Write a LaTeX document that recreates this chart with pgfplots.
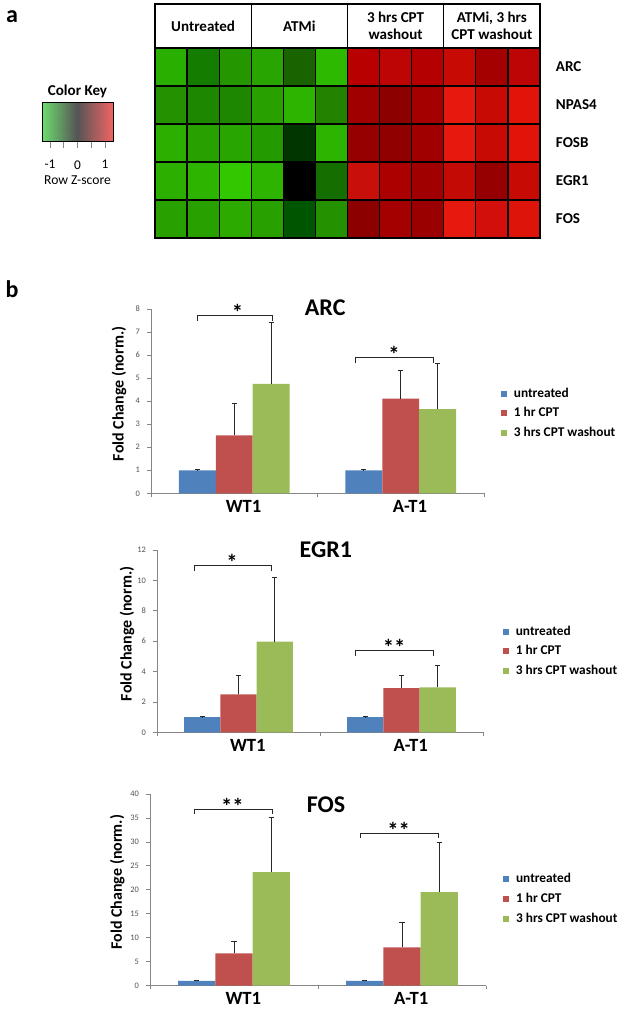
\documentclass[border=0pt]{standalone}
\usepackage{pgfplots}
\pgfplotsset{compat=1.18}
\usepackage{pgfplotstable}
\usepackage{fontspec}
\setmainfont{Carlito}

\definecolor{cblue}{RGB}{79,129,189}
\definecolor{cred}{RGB}{192,80,77}
\definecolor{cgreen}{RGB}{155,187,89}
\definecolor{axgray}{RGB}{134,134,134}
\definecolor{ticklab}{RGB}{80,80,80}
\definecolor{errc}{RGB}{40,40,40}

\pgfplotsset{
  barax/.style={
    scale only axis, anchor=south west, clip=false,
    /pgf/number format/assume math mode=true,
    ybar=0pt, bar width=0.222,
    xmin=-0.5, xmax=1.5, ymin=0,
    axis x line*=bottom, axis y line*=left,
    axis line style={axgray, line width=0.6pt},
    xtick={-0.5,0.5,1.5}, xticklabels={},
    extra x ticks={0,1}, extra x tick labels={WT1,A-T1},
    extra x tick style={major tick length=0pt,
      xticklabel style={font=\fontsize{14pt}{16pt}\selectfont\bfseries, text=black, yshift=-1.5pt, xshift=7pt}},
    tick align=outside, major tick length=2.8pt,
    tick style={axgray, line width=0.6pt},
    yticklabel style={font=\fontsize{6.3pt}{7pt}\selectfont, text=ticklab, xshift=-2pt},
    ylabel={Fold Change (norm.)},
    ylabel style={font=\fontsize{12pt}{14pt}\selectfont\bfseries, anchor=center, rotate=0},
    error bars/y dir=plus, error bars/y explicit,
    error bars/error bar style={errc, line width=0.5pt},
    error bars/error mark=|,
    error bars/error mark options={errc, line width=0.5pt, mark size=2pt},
    legend style={draw=none, fill=none, font=\fontsize{10pt}{12pt}\selectfont\bfseries,
      anchor=north west, inner sep=0pt, row sep=2.2pt,
      /tikz/every odd column/.append style={column sep=3pt}},
    legend cell align=left,
    legend image code/.code={\fill[#1] (0pt,-2.25pt) rectangle (4.5pt,2.25pt);},
  },
}
\tikzset{
  brk/.style={errc, line width=0.6pt},
  star/.style={font=\fontsize{17pt}{18pt}\selectfont\bfseries, anchor=south, inner sep=0pt, yshift=-3.5pt},
  ttl/.style={font=\fontsize{18pt}{20pt}\selectfont\bfseries, anchor=center},
  hdr/.style={font=\fontsize{11.3pt}{12.75pt}\selectfont\bfseries, align=center, anchor=center},
}

\begin{document}
\begin{tikzpicture}[x=0.75pt,y=-0.75pt]
\useasboundingbox (0,0) rectangle (625,1009);
\node[font=\fontsize{18pt}{20pt}\selectfont\bfseries] at (12,17) {a};
\node[font=\fontsize{18pt}{20pt}\selectfont\bfseries] at (12,289) {b};

% ---------- colour key ----------
\begin{axis}[at={({42*0.75pt},{-141*0.75pt})}, anchor=south west, scale only axis,
  width=53.25pt, height=29.25pt,
  xmin=-1.29, xmax=1.29, ymin=0, ymax=1, enlargelimits=false,
  colormap={key}{rgb255=(110,220,110) rgb255=(85,85,85) rgb255=(240,100,100)},
  point meta min=-1.29, point meta max=1.29,
  axis on top, axis line style={black, line width=0.6pt},
  xtick={-1,-0.5,0,0.5,1}, xticklabels={-1,,0,,1}, ytick=\empty,
  xtick pos=bottom, tick align=outside, major tick length=5.25pt,
  tick style={axgray, line width=0.6pt},
  xticklabel style={font=\fontsize{10pt}{12pt}\selectfont, yshift=-5.75pt},
  xlabel={Row Z-score}, xlabel style={font=\fontsize{10.2pt}{12pt}\selectfont, yshift=2pt},
  title={Color Key}, title style={font=\fontsize{11.3pt}{12pt}\selectfont\bfseries, yshift=-6.5pt},
]
\addplot[surf, shader=interp, mesh/cols=3, point meta=explicit] table[meta=c] {
x y c
-1.29 0 -1.29
0 0 0
1.29 0 1.29
-1.29 1 -1.29
0 1 0
1.29 1 1.29
};
\end{axis}

% ---------- heat map ----------
\begin{axis}[at={({155*0.75pt},{-238*0.75pt})}, anchor=south west, scale only axis,
  width=288.75pt, height=142.5pt,
  xmin=-0.5, xmax=11.5, ymin=-0.5, ymax=4.5, enlargelimits=false,
  xtick={-0.5,0.5,...,11.5}, ytick={-0.5,0.5,...,4.5},
  xticklabels={}, yticklabels={}, major tick length=0pt,
  grid=major, grid style={black, line width=0.9pt},
  axis on top, axis line style={black, line width=0.9pt},
  clip=false]
\addplot[matrix plot*, mesh/cols=12, mesh/color input=explicit, point meta=explicit symbolic]
table[meta=c] {
x y c
0 0 rgb255=40,160,0
1 0 rgb255=40,160,0
2 0 rgb255=45,170,0
3 0 rgb255=40,160,0
4 0 rgb255=0,85,0
5 0 rgb255=35,145,0
6 0 rgb255=140,0,0
7 0 rgb255=165,0,0
8 0 rgb255=155,0,0
9 0 rgb255=230,25,15
10 0 rgb255=210,15,10
11 0 rgb255=220,20,10
0 1 rgb255=45,175,0
1 1 rgb255=45,180,0
2 1 rgb255=50,200,0
3 1 rgb255=45,180,0
4 1 rgb255=0,0,0
5 1 rgb255=20,110,0
6 1 rgb255=200,15,10
7 1 rgb255=170,0,0
8 1 rgb255=160,0,0
9 1 rgb255=195,10,5
10 1 rgb255=150,0,0
11 1 rgb255=200,10,5
0 2 rgb255=45,175,0
1 2 rgb255=40,160,0
2 2 rgb255=40,165,0
3 2 rgb255=35,155,0
4 2 rgb255=0,55,0
5 2 rgb255=45,180,0
6 2 rgb255=150,0,0
7 2 rgb255=145,0,0
8 2 rgb255=160,0,0
9 2 rgb255=230,25,15
10 2 rgb255=200,10,5
11 2 rgb255=225,20,10
0 3 rgb255=35,145,0
1 3 rgb255=30,135,0
2 3 rgb255=30,135,0
3 3 rgb255=40,160,0
4 3 rgb255=45,180,0
5 3 rgb255=35,130,0
6 3 rgb255=160,0,0
7 3 rgb255=140,0,0
8 3 rgb255=165,0,0
9 3 rgb255=230,25,15
10 3 rgb255=200,10,5
11 3 rgb255=225,20,10
0 4 rgb255=40,175,0
1 4 rgb255=20,125,0
2 4 rgb255=35,150,0
3 4 rgb255=40,165,0
4 4 rgb255=25,100,0
5 4 rgb255=45,185,0
6 4 rgb255=185,0,0
7 4 rgb255=190,5,5
8 4 rgb255=180,0,0
9 4 rgb255=200,10,5
10 4 rgb255=165,0,0
11 4 rgb255=190,5,5
};
\draw[black, line width=0.9pt, fill=white] (axis cs:-0.5,4.5) rectangle (axis cs:11.5,5.658);
\draw[black, line width=0.9pt] (axis cs:2.5,4.5) -- (axis cs:2.5,5.658);
\draw[black, line width=0.9pt] (axis cs:5.5,4.5) -- (axis cs:5.5,5.658);
\draw[black, line width=0.9pt] (axis cs:8.5,4.5) -- (axis cs:8.5,5.658);
\node[hdr] at (axis cs:1,5.08) {Untreated};
\node[hdr] at (axis cs:4,5.08) {ATMi};
\node[hdr] at (axis cs:7,5.08) {3 hrs CPT\\washout};
\node[hdr] at (axis cs:10,5.08) {ATMi, 3 hrs\\CPT washout};
\node[hdr, anchor=west] at (axis cs:11.85,4) {ARC};
\node[hdr, anchor=west] at (axis cs:11.85,3) {NPAS4};
\node[hdr, anchor=west] at (axis cs:11.85,2) {FOSB};
\node[hdr, anchor=west] at (axis cs:11.85,1) {EGR1};
\node[hdr, anchor=west] at (axis cs:11.85,0) {FOS};
\end{axis}

% ---------- ARC ----------
\begin{axis}[barax, at={({151*0.75pt},{-493.3*0.75pt})}, width=249.75pt, height=138.2pt,
  ymax=8, ytick={0,1,...,8},
  ylabel style={at={(axis description cs:-0.096,0.54)}},
  legend style={at={(axis description cs:1.051,0.588)}}]
\addplot[fill=cblue, draw=none] table[x=x, y=y, y error=e] {
x y e
0 1 0.02
1 1 0.02
};
\addplot[fill=cred, draw=none] table[x=x, y=y, y error=e] {
x y e
0 2.52 1.39
1 4.11 1.21
};
\addplot[fill=cgreen, draw=none] table[x=x, y=y, y error=e] {
x y e
0 4.75 2.68
1 3.65 2.00
};
\legend{untreated, 1 hr CPT, 3 hrs CPT washout}
\draw[brk] (axis cs:-0.222,7.49) -- (axis cs:-0.222,7.71) -- (axis cs:0.227,7.71) -- (axis cs:0.227,7.49);
\node[star] at (axis cs:0.02,7.71) {*};
\draw[brk] (axis cs:0.725,5.66) -- (axis cs:0.725,5.88) -- (axis cs:1.194,5.88) -- (axis cs:1.194,5.66);
\node[star] at (axis cs:0.96,5.88) {*};
\node[ttl] at (rel axis cs:0.523,1.005) {ARC};
\end{axis}

% ---------- EGR1 ----------
\begin{axis}[barax, at={({157*0.75pt},{-732.3*0.75pt})}, width=244.5pt, height=136.8pt,
  ymax=12, ytick={0,2,...,12},
  ylabel style={at={(axis description cs:-0.092,0.54)}},
  legend style={at={(axis description cs:1.061,0.599)}}]
\addplot[fill=cblue, draw=none] table[x=x, y=y, y error=e] {
x y e
0 1 0.03
1 1 0.03
};
\addplot[fill=cred, draw=none] table[x=x, y=y, y error=e] {
x y e
0 2.50 1.25
1 2.91 0.84
};
\addplot[fill=cgreen, draw=none] table[x=x, y=y, y error=e] {
x y e
0 5.96 4.24
1 2.96 1.45
};
\legend{untreated, 1 hr CPT, 3 hrs CPT washout}
\draw[brk] (axis cs:-0.273,10.63) -- (axis cs:-0.273,10.96) -- (axis cs:0.199,10.96) -- (axis cs:0.199,10.63);
\node[star] at (axis cs:-0.04,10.96) {*};
\draw[brk] (axis cs:0.72,5.04) -- (axis cs:0.72,5.37) -- (axis cs:1.193,5.37) -- (axis cs:1.193,5.04);
\node[star] at (axis cs:0.955,5.37) {**};
\node[ttl] at (rel axis cs:0.518,1.0) {EGR1};
\end{axis}

% ---------- FOS ----------
\begin{axis}[barax, at={({150*0.75pt},{-985.7*0.75pt})}, width=252pt, height=143.8pt,
  ymax=40, ytick={0,5,...,40},
  ylabel style={at={(axis description cs:-0.097,0.54)}},
  legend style={at={(axis description cs:1.051,0.60)}}]
\addplot[fill=cblue, draw=none] table[x=x, y=y, y error=e] {
x y e
0 1 0.1
1 1 0.1
};
\addplot[fill=cred, draw=none] table[x=x, y=y, y error=e] {
x y e
0 6.76 2.44
1 8.00 5.15
};
\addplot[fill=cgreen, draw=none] table[x=x, y=y, y error=e] {
x y e
0 23.7 11.5
1 19.5 10.4
};
\legend{untreated, 1 hr CPT, 3 hrs CPT washout}
\draw[brk] (axis cs:-0.238,35.9) -- (axis cs:-0.238,36.7) -- (axis cs:0.226,36.7) -- (axis cs:0.226,35.9);
\node[star] at (axis cs:-0.01,36.7) {**};
\draw[brk] (axis cs:0.75,30.9) -- (axis cs:0.75,31.7) -- (axis cs:1.214,31.7) -- (axis cs:1.214,30.9);
\node[star] at (axis cs:0.98,31.7) {**};
\node[ttl] at (rel axis cs:0.524,0.943) {FOS};
\end{axis}
\end{tikzpicture}
\end{document}
